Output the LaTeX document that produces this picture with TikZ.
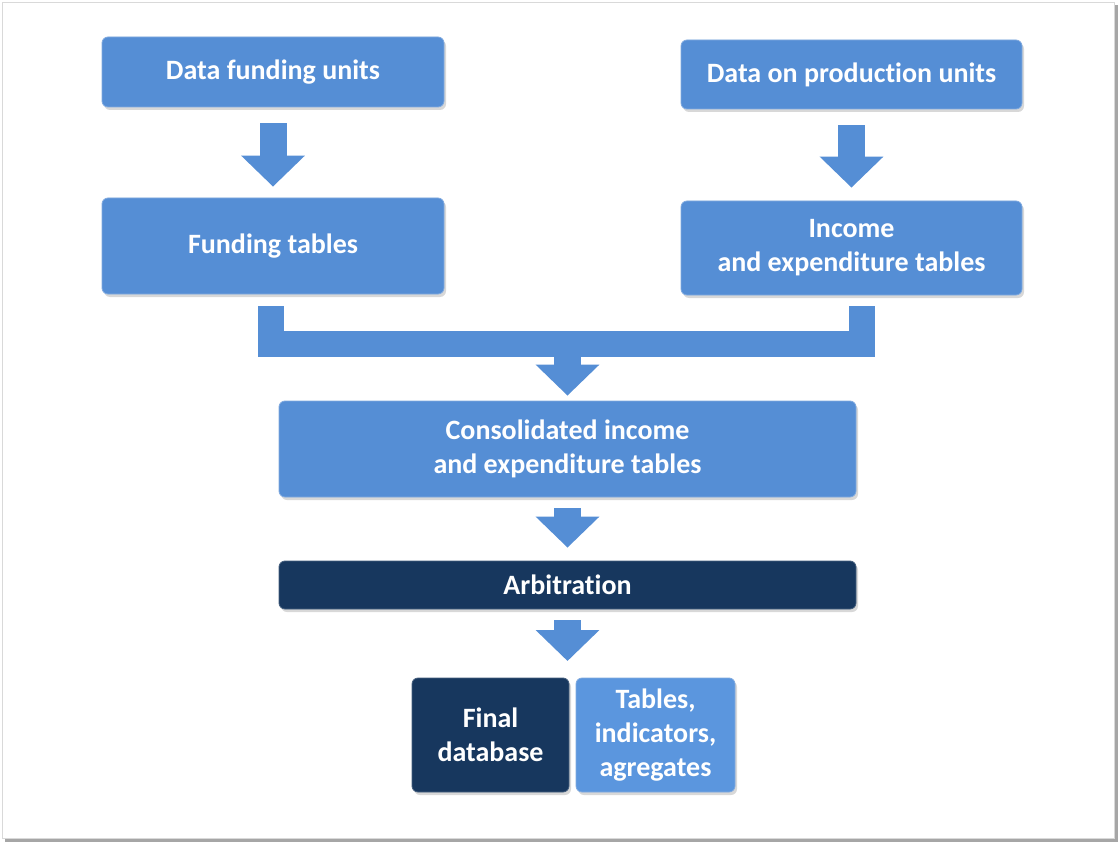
\documentclass[tikz,border=0pt]{standalone}
\usepackage{fontspec}
\setmainfont{Carlito}[Ligatures=NoCommon]
\usetikzlibrary{arrows.meta,shadows}
\definecolor{boxblue}{HTML}{558ED5}
\definecolor{navy}{HTML}{17375E}
\definecolor{lightblue}{HTML}{5B96DE}
\begin{document}
\begin{tikzpicture}[x=1pt,y=-1pt,
  box/.style={rounded corners=6pt, fill=boxblue, draw=boxblue!75!white, line width=0.8pt,
    text=white, font=\fontsize{28}{34}\selectfont\bfseries, align=center, inner sep=0pt,
    drop shadow={shadow xshift=2pt, shadow yshift=-3pt, opacity=0.3}},
  darkbox/.style={box, fill=navy, draw=navy!80!white},
  link/.style={draw=boxblue, line width=27pt, -{Triangle[width=62pt,length=31pt]}}]
  \useasboundingbox (0,0) rectangle (1118,842);
  \fill[black!35] (5,5) rectangle (1118,842);
  \draw[black!15, fill=white] (2,2) rectangle (1114,838);

  \node[box, minimum width=342, minimum height=70] (dfu) at (273,72) {Data funding units};
  \node[box, minimum width=341, minimum height=69] (dpu) at (851.5,74.5) {Data on production units};
  \node[box, minimum width=342, minimum height=96] (ft) at (273,246) {Funding tables};
  \node[box, minimum width=341, minimum height=94] (iet) at (851.5,248) {Income\\and expenditure tables};
  \node[box, minimum width=577, minimum height=96] (cons) at (567.5,449) {Consolidated income\\and expenditure tables};
  \node[darkbox, minimum width=577, minimum height=48] (arb) at (567.5,585) {Arbitration};
  \node[darkbox, minimum width=157, minimum height=114] (fdb) at (490.5,735) {Final\\database};
  \node[box, fill=lightblue, minimum width=159, minimum height=114] (tia) at (655.5,735) {Tables,\\indicators,\\agregates};

  \coordinate (lft) at (271,306);
  \coordinate (rgt) at (862,306);
  \coordinate (mid) at (567.5,344);
  \coordinate (out) at (567.5,661);

  \draw[link, shorten <=16pt, shorten >=11pt] (dfu) -- (ft);
  \draw[link, shorten <=16pt, shorten >=13pt] (dpu) -- (iet);
  \draw[boxblue, line width=26pt, line join=miter] (lft) |- (mid) -| (rgt);
  \draw[link, shorten >=5pt] (mid) -- (cons);
  \draw[link, shorten <=11pt, shorten >=13pt] (cons) -- (arb);
  \draw[link, shorten <=11pt] (arb) -- (out);
\end{tikzpicture}
\end{document}
